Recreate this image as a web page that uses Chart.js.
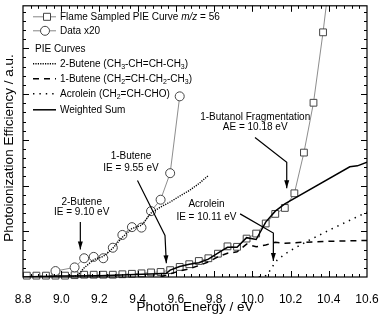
<!DOCTYPE html>
<html>
<head>
<meta charset="utf-8">
<script src="https://cdn.jsdelivr.net/npm/chart.js@4/dist/chart.umd.min.js"></script>
<style>
  html, body { margin: 0; padding: 0; background: #fff; }
</style>
</head>
<body>
<canvas id="pieChart" width="380" height="316"></canvas>
<script>
// Flame sampled PIE curve, m/z = 56 (squares)
const flameEnergy = [8.82, 8.87, 8.92, 8.97, 9.02, 9.07, 9.12, 9.17, 9.22, 9.27, 9.32,
  9.37, 9.42, 9.47, 9.52, 9.57, 9.62, 9.67, 9.72, 9.77, 9.82, 9.87, 9.92, 9.97,
  10.02, 10.07, 10.12, 10.17, 10.22, 10.27, 10.32, 10.37, 10.42];
const flameSignal = [0.03, 0.03, 0.03, 0.03, 0.03, 0.04, 0.05, 0.05, 0.05, 0.05, 0.06,
  0.07, 0.08, 0.10, 0.11, 0.15, 0.22, 0.28, 0.35, 0.41, 0.51, 0.67, 0.66, 0.84,
  0.95, 1.17, 1.38, 1.51, 1.83, 2.72, 3.81, 5.35, 7.10];

// same data x20 (circles)
const x20Energy = [8.97, 9.07, 9.12, 9.17, 9.22, 9.27, 9.32, 9.37, 9.42, 9.47, 9.52, 9.57, 9.62];
const x20Signal = [0.13, 0.21, 0.41, 0.44, 0.41, 0.64, 0.92, 1.09, 1.08, 1.44, 1.69, 2.27, 3.95];

// reference PIE curves
const butene2Energy = [9.06, 9.09, 9.12, 9.17, 9.22, 9.27, 9.32, 9.37, 9.42, 9.47, 9.52, 9.57, 9.62, 9.67, 9.72, 9.77];
const butene2Pie = [0.00, 0.05, 0.20, 0.38, 0.45, 0.63, 0.87, 1.06, 1.13, 1.40, 1.53, 1.64, 1.77, 1.89, 2.04, 2.22];

const butene1Energy = [9.52, 9.57, 9.62, 9.67, 9.72, 9.77, 9.82, 9.87, 9.92, 9.97, 10.02, 10.07, 10.12, 10.17, 10.27, 10.40, 10.60];
const butene1Pie = [0.00, 0.07, 0.13, 0.18, 0.25, 0.33, 0.44, 0.52, 0.55, 0.72, 0.66, 0.70, 0.76, 0.74, 0.76, 0.78, 0.80];

const acroleinEnergy = [10.00, 10.06, 10.08, 10.10, 10.13, 10.17, 10.20, 10.30, 10.40, 10.50, 10.60];
const acroleinPie = [0.00, 0.01, 0.05, 0.20, 0.37, 0.50, 0.58, 0.81, 1.02, 1.22, 1.42];

const sumEnergy = [8.80, 9.00, 9.20, 9.50, 9.55, 9.57, 9.62, 9.67, 9.72, 9.77, 9.83, 9.87, 9.92, 9.97,
  10.02, 10.07, 10.12, 10.17, 10.51, 10.55, 10.60];
const sumPie = [0.00, 0.02, 0.03, 0.07, 0.08, 0.15, 0.23, 0.28, 0.31, 0.39, 0.55, 0.65, 0.65, 0.86,
  0.82, 1.20, 1.44, 1.60, 2.41, 2.43, 2.51];

const xTickLabels = [8.8, 9.0, 9.2, 9.4, 9.6, 9.8, 10.0, 10.2, 10.4, 10.6];
const yMax = 5.93;

const legendRows = [
  { kind: 'square', text: 'Flame Sampled PIE Curve *m/z* = 56' },
  { kind: 'circle', text: 'Data x20' },
  { kind: 'header', text: 'PIE Curves' },
  { kind: 'dots', text: '2-Butene (CH_3-CH=CH-CH_3)' },
  { kind: 'dash', text: '1-Butene (CH_2=CH-CH_2-CH_3)' },
  { kind: 'sparse', text: 'Acrolein (CH_2=CH-CHO)' },
  { kind: 'solid', text: 'Weighted Sum' }
];

// callouts: text anchor and arrow path, in data units
const callouts = [
  { text: ['2-Butene', 'IE = 9.10 eV'], at: [9.107, 1.64], gap: 10,
    path: [[9.10, 1.20], [9.10, 0.60]] },
  { text: ['1-Butene', 'IE = 9.55 eV'], at: [9.365, 2.63], gap: 12,
    path: [[9.399, 2.11], [9.543, 0.91], [9.55, 0.30]] },
  { text: ['Acrolein', 'IE = 10.11 eV'], at: [9.76, 1.60], gap: 13.5,
    path: [[9.936, 1.38], [10.11, 0.96], [10.11, 0.35]] },
  { text: ['1-Butanol Fragmentation', 'AE = 10.18 eV'], at: [10.015, 3.485], gap: 10,
    path: [[10.014, 3.05], [10.18, 2.51], [10.18, 1.94]] }
];

const FONT = "'Liberation Sans', Arial, Helvetica, sans-serif";
Chart.defaults.font.family = FONT;
Chart.defaults.color = '#000';

function toPoints(xs, ys) {
  return xs.map((v, i) => ({ x: v, y: ys[i] }));
}

// text with _n subscripts and *italic* parts, vertically centred on y
function drawRich(ctx, str, x, y, size) {
  const parts = str.split(/(_\d|\*[^*]+\*)/).filter(p => p.length);
  ctx.textBaseline = 'middle';
  ctx.textAlign = 'left';
  for (const p of parts) {
    if (p[0] === '_') {
      ctx.font = (size * 0.7) + 'px ' + FONT;
      ctx.fillText(p.slice(1), x, y + size * 0.3);
      x += ctx.measureText(p.slice(1)).width;
    } else if (p[0] === '*') {
      ctx.font = 'italic ' + size + 'px ' + FONT;
      ctx.fillText(p.slice(1, -1), x, y);
      x += ctx.measureText(p.slice(1, -1)).width;
    } else {
      ctx.font = size + 'px ' + FONT;
      ctx.fillText(p, x, y);
      x += ctx.measureText(p).width;
    }
  }
}

const framePlugin = {
  id: 'frame',
  afterDraw(chart) {
    const { ctx, chartArea: a, scales: { x, y } } = chart;
    ctx.save();
    ctx.strokeStyle = '#000';
    ctx.lineWidth = 1.2;
    ctx.strokeRect(a.left, a.top, a.right - a.left, a.bottom - a.top);

    ctx.lineWidth = 1;
    ctx.beginPath();
    for (let i = 1; i < 45; i++) {
      const px = Math.round(x.getPixelForValue(8.8 + i * 0.04)) + 0.5;
      const len = i % 5 === 0 ? 6 : 3;
      ctx.moveTo(px, a.bottom); ctx.lineTo(px, a.bottom - len);
      ctx.moveTo(px, a.top); ctx.lineTo(px, a.top + len);
    }
    for (let i = 1; i * 0.2 < yMax; i++) {
      const py = Math.round(y.getPixelForValue(i * 0.2)) + 0.5;
      const len = i % 5 === 0 ? 6 : 3;
      ctx.moveTo(a.left, py); ctx.lineTo(a.left + len, py);
      ctx.moveTo(a.right, py); ctx.lineTo(a.right - len, py);
    }
    ctx.stroke();

    // y axis title
    ctx.save();
    ctx.translate(9, 148);
    ctx.rotate(-Math.PI / 2);
    ctx.font = '13.5px ' + FONT;
    ctx.fillStyle = '#000';
    ctx.textAlign = 'center';
    ctx.textBaseline = 'middle';
    ctx.fillText('Photoionization Efficiency / a.u.', 0, 0);
    ctx.restore();

    // legend
    const lx0 = a.left + 10, lx1 = a.left + 33, tx = a.left + 37;
    const rowY = [11, 25, 43, 58, 73, 88, 104];
    legendRows.forEach((row, i) => {
      const ry = a.top + rowY[i];
      ctx.save();
      ctx.strokeStyle = '#000';
      if (row.kind === 'square' || row.kind === 'circle') {
        ctx.strokeStyle = '#777';
        ctx.lineWidth = 0.9;
        ctx.beginPath(); ctx.moveTo(lx0, ry); ctx.lineTo(lx1, ry); ctx.stroke();
        ctx.fillStyle = '#fff';
        ctx.strokeStyle = '#444';
        ctx.lineWidth = 1;
        ctx.beginPath();
        if (row.kind === 'square') ctx.rect(a.left + 20.5, ry - 3.5, 7, 7);
        else ctx.arc(a.left + 22, ry, 4.5, 0, Math.PI * 2);
        ctx.fill(); ctx.stroke();
      } else if (row.kind !== 'header') {
        ctx.lineWidth = row.kind === 'dots' ? 1.4 : 1.5;
        ctx.setLineDash(row.kind === 'dots' ? [1.2, 1.2] : row.kind === 'dash' ? [6, 5] : row.kind === 'sparse' ? [1.4, 5] : []);
        ctx.beginPath(); ctx.moveTo(lx0, ry); ctx.lineTo(lx1, ry); ctx.stroke();
      }
      ctx.restore();
      ctx.fillStyle = '#000';
      drawRich(ctx, row.text, row.kind === 'header' ? a.left + 12 : tx, ry, 10);
    });

    // callouts
    ctx.fillStyle = '#000';
    ctx.strokeStyle = '#000';
    ctx.lineWidth = 1.2;
    callouts.forEach(c => {
      ctx.font = '10px ' + FONT;
      ctx.textAlign = 'center';
      ctx.textBaseline = 'middle';
      const cx = x.getPixelForValue(c.at[0]);
      const cy = y.getPixelForValue(c.at[1]);
      c.text.forEach((t, k) => ctx.fillText(t, cx, cy + k * c.gap));
      const pts = c.path.map(p => [x.getPixelForValue(p[0]), y.getPixelForValue(p[1])]);
      ctx.beginPath();
      ctx.moveTo(pts[0][0], pts[0][1]);
      for (let k = 1; k < pts.length; k++) ctx.lineTo(pts[k][0], pts[k][1]);
      ctx.stroke();
      const [ex, ey] = pts[pts.length - 1];
      const [sx, sy] = pts[pts.length - 2];
      const ang = Math.atan2(ey - sy, ex - sx);
      ctx.beginPath();
      ctx.moveTo(ex, ey);
      ctx.lineTo(ex - 8 * Math.cos(ang) + 2.5 * Math.sin(ang), ey - 8 * Math.sin(ang) - 2.5 * Math.cos(ang));
      ctx.lineTo(ex - 8 * Math.cos(ang) - 2.5 * Math.sin(ang), ey - 8 * Math.sin(ang) + 2.5 * Math.cos(ang));
      ctx.closePath();
      ctx.fill();
    });
    ctx.restore();
  }
};

const lineClip = { left: 5, top: 0, right: 5, bottom: 5 };

new Chart(document.getElementById('pieChart'), {
  type: 'line',
  data: {
    datasets: [
      {
        label: 'Flame Sampled PIE Curve m/z = 56',
        data: toPoints(flameEnergy, flameSignal),
        borderColor: '#808080',
        borderWidth: 0.9,
        pointStyle: 'rect',
        pointRadius: 4.8,
        pointBorderColor: '#444',
        pointBackgroundColor: '#fff',
        pointBorderWidth: 1,
        clip: lineClip,
        order: 6
      },
      {
        label: 'Data x20',
        data: toPoints(x20Energy, x20Signal),
        borderColor: '#808080',
        borderWidth: 0.9,
        pointStyle: 'circle',
        pointRadius: 4.5,
        pointBorderColor: '#444',
        pointBackgroundColor: '#fff',
        pointBorderWidth: 1,
        clip: lineClip,
        order: 5
      },
      {
        label: '2-Butene',
        data: toPoints(butene2Energy, butene2Pie),
        borderColor: '#000',
        borderWidth: 1.4,
        borderDash: [1.2, 1.2],
        pointRadius: 0,
        order: 2
      },
      {
        label: '1-Butene',
        data: toPoints(butene1Energy, butene1Pie),
        borderColor: '#000',
        borderWidth: 1.5,
        borderDash: [6, 5],
        pointRadius: 0,
        order: 3
      },
      {
        label: 'Acrolein',
        data: toPoints(acroleinEnergy, acroleinPie),
        borderColor: '#000',
        borderWidth: 1.5,
        borderDash: [1.4, 5],
        pointRadius: 0,
        order: 4
      },
      {
        label: 'Weighted Sum',
        data: toPoints(sumEnergy, sumPie),
        borderColor: '#000',
        borderWidth: 1.5,
        pointRadius: 0,
        order: 1
      }
    ]
  },
  options: {
    responsive: false,
    animation: false,
    devicePixelRatio: 1,
    layout: { padding: { left: 0, top: 4, right: 13, bottom: 0 } },
    plugins: {
      legend: { display: false },
      tooltip: { enabled: false }
    },
    scales: {
      x: {
        type: 'linear',
        min: 8.8,
        max: 10.6,
        grid: { display: false },
        border: { display: false },
        afterBuildTicks: scale => { scale.ticks = xTickLabels.map(v => ({ value: v })); },
        afterFit: scale => {
          scale.height = 39;
          scale.paddingLeft = 0;
          scale.paddingRight = 0;
        },
        ticks: {
          padding: 7,
          font: { size: 12 },
          maxRotation: 0,
          autoSkip: false,
          callback: v => v.toFixed(1)
        },
        title: {
          display: true,
          text: 'Photon Energy / eV',
          font: { size: 13.5 },
          padding: { top: 0, bottom: 1 }
        }
      },
      y: {
        type: 'linear',
        min: 0,
        max: yMax,
        grid: { display: false },
        border: { display: false },
        ticks: { display: false },
        afterFit: scale => {
          scale.width = 23;
          scale.paddingTop = 0;
          scale.paddingBottom = 0;
        }
      }
    }
  },
  plugins: [framePlugin]
});
</script>
</body>
</html>
